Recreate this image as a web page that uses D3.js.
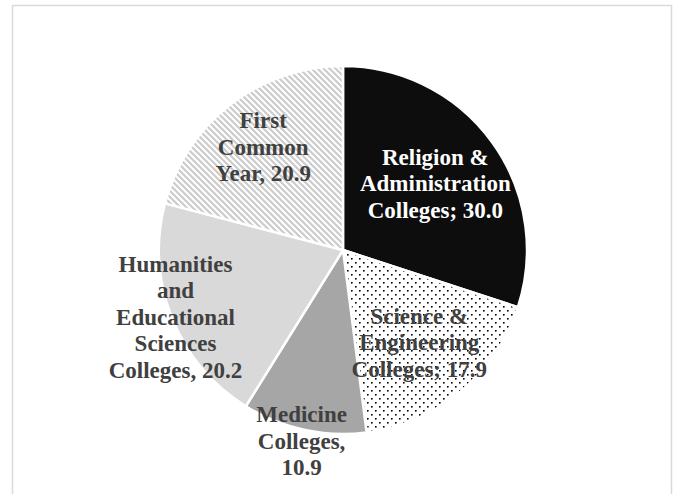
<!DOCTYPE html>
<html>
<head>
<meta charset="utf-8">
<script src="https://cdn.jsdelivr.net/npm/d3@7"></script>
<style>
  body { margin: 0; background: #fff; }
  svg { display: block; }
</style>
</head>
<body>
<div id="chart"></div>
<script>
// Data, clockwise from 12 o'clock
const labels = [
  ["Religion &", "Administration", "Colleges; 30.0"],
  ["Science &", "Engineering", "Colleges; 17.9"],
  ["Medicine", "Colleges,", "10.9"],
  ["Humanities", "and", "Educational", "Sciences", "Colleges, 20.2"],
  ["First", "Common", "Year, 20.9"]
];
const values = [30.0, 17.9, 10.9, 20.2, 20.9];

/*******************************/
/*    Declare the constants    */
/*******************************/
const width = 680;
const height = 494;
const cx = 343;
const cy = 250;
const radius = 184;
const lineHeight = 26.5;

// fill for each slice, label colour, and label distance (fraction of radius)
const fills = ["#0d0d0d", "url(#dots)", "#a6a6a6", "#d9d9d9", "url(#stripes)"];
const textColors = ["#ffffff", "#404040", "#404040", "#404040", "#404040"];
const labelRadius = [0.62, 0.65, 1.06, 0.98, 0.71];

/*******************************/
/*    Append the containers    */
/*******************************/
const svg = d3.select("#chart")
  .append("svg")
    .attr("width", width)
    .attr("height", height)
    .attr("viewBox", `0 0 ${width} ${height}`);

svg.append("rect")
    .attr("width", width)
    .attr("height", height)
    .attr("fill", "#ffffff");

// chart area frame (bottom edge falls outside the picture)
svg.append("rect")
    .attr("x", 12.5)
    .attr("y", 5.5)
    .attr("width", 659)
    .attr("height", 520)
    .attr("fill", "none")
    .attr("stroke", "#d9d9d9")
    .attr("stroke-width", 1.5);

// Patterns
const defs = svg.append("defs");
const dots = defs.append("pattern")
    .attr("id", "dots")
    .attr("patternUnits", "userSpaceOnUse")
    .attr("width", 8)
    .attr("height", 8);
dots.append("rect").attr("width", 8).attr("height", 8).attr("fill", "#ffffff");
dots.append("rect").attr("x", 0).attr("y", 0).attr("width", 1.6).attr("height", 1.6).attr("fill", "#000000");
dots.append("rect").attr("x", 4).attr("y", 4).attr("width", 1.6).attr("height", 1.6).attr("fill", "#000000");

const stripes = defs.append("pattern")
    .attr("id", "stripes")
    .attr("patternUnits", "userSpaceOnUse")
    .attr("width", 6)
    .attr("height", 6);
stripes.append("rect").attr("width", 6).attr("height", 6).attr("fill", "#ffffff");
stripes.append("path")
    .attr("d", "M-1,-1 L7,7 M-1,5 L1,7 M5,-1 L7,1")
    .attr("stroke", "#cccccc")
    .attr("stroke-width", 2.2);

/****************************/
/*      Pie and slices      */
/****************************/
const pie = d3.pie()
  .sort(null)
  .value(d => d);
const arcs = pie(values);

const arc = d3.arc()
  .innerRadius(0)
  .outerRadius(radius);

const g = svg.append("g")
    .attr("transform", `translate(${cx}, ${cy})`);

g.selectAll("path.slice")
  .data(arcs)
  .join("path")
    .attr("class", "slice")
    .attr("d", arc)
    .attr("fill", (d, i) => fills[i])
    .attr("stroke", "#ffffff")
    .attr("stroke-width", 2.5)
    .attr("stroke-linejoin", "round");

/****************************/
/*        Add labels        */
/****************************/
arcs.forEach((d, i) => {
  const r = radius * labelRadius[i];
  const [lx, ly] = d3.arc().innerRadius(r).outerRadius(r).centroid(d);
  const lines = labels[i];
  const text = g.append("text")
      .attr("text-anchor", "middle")
      .attr("font-family", "'Liberation Serif', 'Times New Roman', serif")
      .attr("font-weight", "bold")
      .attr("font-size", 23)
      .attr("fill", textColors[i]);
  lines.forEach((line, j) => {
    text.append("tspan")
        .attr("x", lx)
        .attr("y", ly + (j - (lines.length - 1) / 2) * lineHeight)
        .attr("dy", "0.35em")
        .text(line);
  });
});
</script>
</body>
</html>
